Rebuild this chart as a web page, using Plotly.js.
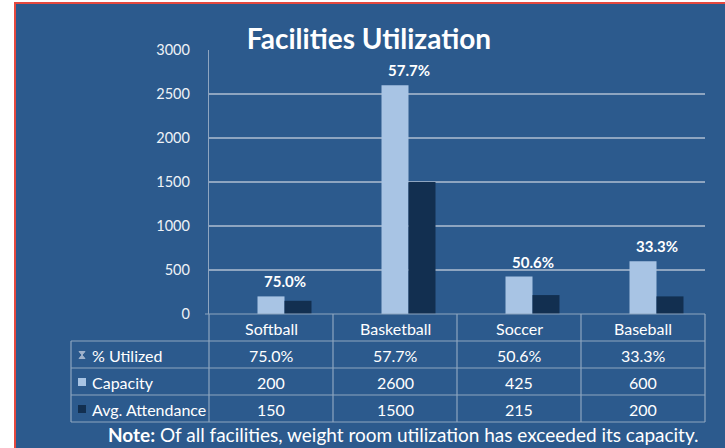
<!DOCTYPE html>
<html>
<head>
<meta charset="utf-8">
<script src="https://cdn.plot.ly/plotly-3.0.1.min.js"></script>
<style>html,body{margin:0;padding:0;background:#fff;}#chart{width:725px;height:448px;}</style>
</head>
<body>
<div id="chart"></div>
<script>
// ---- data ----
const categories = ["Softball", "Basketball", "Soccer", "Baseball"];
const capacity = [200, 2600, 425, 600];
const attendance = [150, 1500, 215, 200];
const pctUtilized = ["75.0%", "57.7%", "50.6%", "33.3%"];
const rowLabels = ["% Utilized", "Capacity", "Avg. Attendance"];
const yTicks = [0, 500, 1000, 1500, 2000, 2500, 3000];
const titleText = "Facilities Utilization";
const noteText = "<b>Note:</b> Of all facilities, weight room utilization has exceeded its capacity.";

// ---- layout helpers (pixel -> paper) ----
const L = 209, R = 705, T = 50, B = 314;
const W = R - L, H = B - T;
const px = v => (v - L) / W;
const py = v => (B - v) / H;

const BG = "#2c5a8d";
const LIGHT = "#a8c4e4";
const DARK = "#122f50";
const GRID = "#8ea5c0";
const FONT = "Lato, 'Open Sans', sans-serif";
const TXT = "#ffffff";

const colW = W / categories.length;      // pixels per category
const barW = 27 / colW;                   // bar width in category units

const traces = [
  { type: "bar", name: "Capacity", x: categories, y: capacity,
    width: barW, offset: -barW / 2,
    marker: { color: LIGHT, line: { width: 0 } }, hoverinfo: "skip" },
  { type: "bar", name: "Avg. Attendance", x: categories, y: attendance,
    width: barW, offset: barW / 2,
    marker: { color: DARK, line: { width: 0 } }, hoverinfo: "skip" }
];

// ---- table geometry ----
const colEdges = [209, 333, 457, 581, 705];
const rowEdges = [314, 341, 368, 395, 422];
const labelLeft = 71;
const rowCenters = [328, 355, 382, 409];

const shapes = [];
shapes.push({ type: "rect", xref: "paper", yref: "paper", layer: "below",
  x0: px(15), x1: px(760), y0: py(3), y1: py(480),
  fillcolor: BG, line: { color: "#e5493f", width: 2 } });
rowEdges.forEach((e, i) => {
  shapes.push({ type: "line", xref: "paper", yref: "paper",
    x0: px(i === 0 ? 205 : labelLeft), x1: px(705), y0: py(e), y1: py(e),
    line: { color: GRID, width: 1.2 } });
});
colEdges.forEach(e => {
  shapes.push({ type: "line", xref: "paper", yref: "paper",
    x0: px(e), x1: px(e), y0: py(314), y1: py(422),
    line: { color: GRID, width: 1.2 } });
});
shapes.push({ type: "line", xref: "paper", yref: "paper",
  x0: px(labelLeft), x1: px(labelLeft), y0: py(341), y1: py(422),
  line: { color: GRID, width: 1.2 } });
// legend keys
shapes.push({ type: "path", xref: "paper", yref: "paper",
  path: `M ${px(79)} ${py(351.5)} L ${px(85)} ${py(351.5)} L ${px(79)} ${py(358.5)} L ${px(85)} ${py(358.5)} Z`,
  fillcolor: "#9fb2cc", line: { color: "#9fb2cc", width: 1 } });
shapes.push({ type: "rect", xref: "paper", yref: "paper",
  x0: px(78), x1: px(86), y0: py(378), y1: py(386),
  fillcolor: LIGHT, line: { width: 0 } });
shapes.push({ type: "rect", xref: "paper", yref: "paper",
  x0: px(78), x1: px(86), y0: py(405), y1: py(413),
  fillcolor: DARK, line: { width: 0 } });

const annotations = [];
const tf = { family: FONT, size: 16, color: TXT };
categories.forEach((c, i) => {
  // % labels above the bar pair
  annotations.push({ xref: "x", yref: "y", x: c, y: capacity[i],
    text: "<b>" + pctUtilized[i] + "</b>", showarrow: false,
    font: { family: FONT, size: 15, color: TXT },
    xanchor: "center", yanchor: "middle", xshift: 13.5, yshift: 15 });
  annotations.push({ xref: "x", yref: "paper", x: c, y: py(rowCenters[0]),
    text: c, showarrow: false, font: tf, xanchor: "center", yanchor: "middle" });
  annotations.push({ xref: "x", yref: "paper", x: c, y: py(rowCenters[1]),
    text: pctUtilized[i], showarrow: false, font: tf, xanchor: "center", yanchor: "middle" });
  annotations.push({ xref: "x", yref: "paper", x: c, y: py(rowCenters[2]),
    text: String(capacity[i]), showarrow: false, font: tf, xanchor: "center", yanchor: "middle" });
  annotations.push({ xref: "x", yref: "paper", x: c, y: py(rowCenters[3]),
    text: String(attendance[i]), showarrow: false, font: tf, xanchor: "center", yanchor: "middle" });
});
rowLabels.forEach((r, i) => {
  annotations.push({ xref: "paper", yref: "paper", x: px(90), y: py(rowCenters[i + 1]),
    text: r, showarrow: false, font: tf, xanchor: "left", yanchor: "middle" });
});
annotations.push({ xref: "paper", yref: "paper", x: px(403), y: py(434.5),
  text: noteText, showarrow: false, font: { family: FONT, size: 19, color: TXT },
  xanchor: "center", yanchor: "middle" });

const layout = {
  width: 725, height: 448,
  margin: { l: L, r: 725 - R, t: T, b: 448 - B, pad: 0 },
  paper_bgcolor: "#ffffff",
  plot_bgcolor: "rgba(0,0,0,0)",
  showlegend: false,
  barmode: "overlay",
  title: { text: "<b>" + titleText + "</b>", xref: "container", yref: "container",
    x: 369 / 725, y: 1 - 39 / 448, xanchor: "center", yanchor: "middle",
    font: { family: FONT, size: 28, color: TXT } },
  xaxis: { type: "category", showticklabels: false, showgrid: false,
    zeroline: false, showline: false, fixedrange: true },
  yaxis: { range: [0, 3000], tickvals: yTicks, ticktext: yTicks.map(String),
    showgrid: true, gridcolor: GRID, gridwidth: 1.2, zeroline: false,
    showline: true, linecolor: GRID, linewidth: 1.2,
    ticks: "", ticklabelstandoff: 15,
    tickfont: { family: FONT, size: 14.5, color: "#eef2f7" }, fixedrange: true },
  shapes: shapes,
  annotations: annotations
};

Plotly.newPlot("chart", traces, layout, { displayModeBar: false, staticPlot: true });
</script>
</body>
</html>
